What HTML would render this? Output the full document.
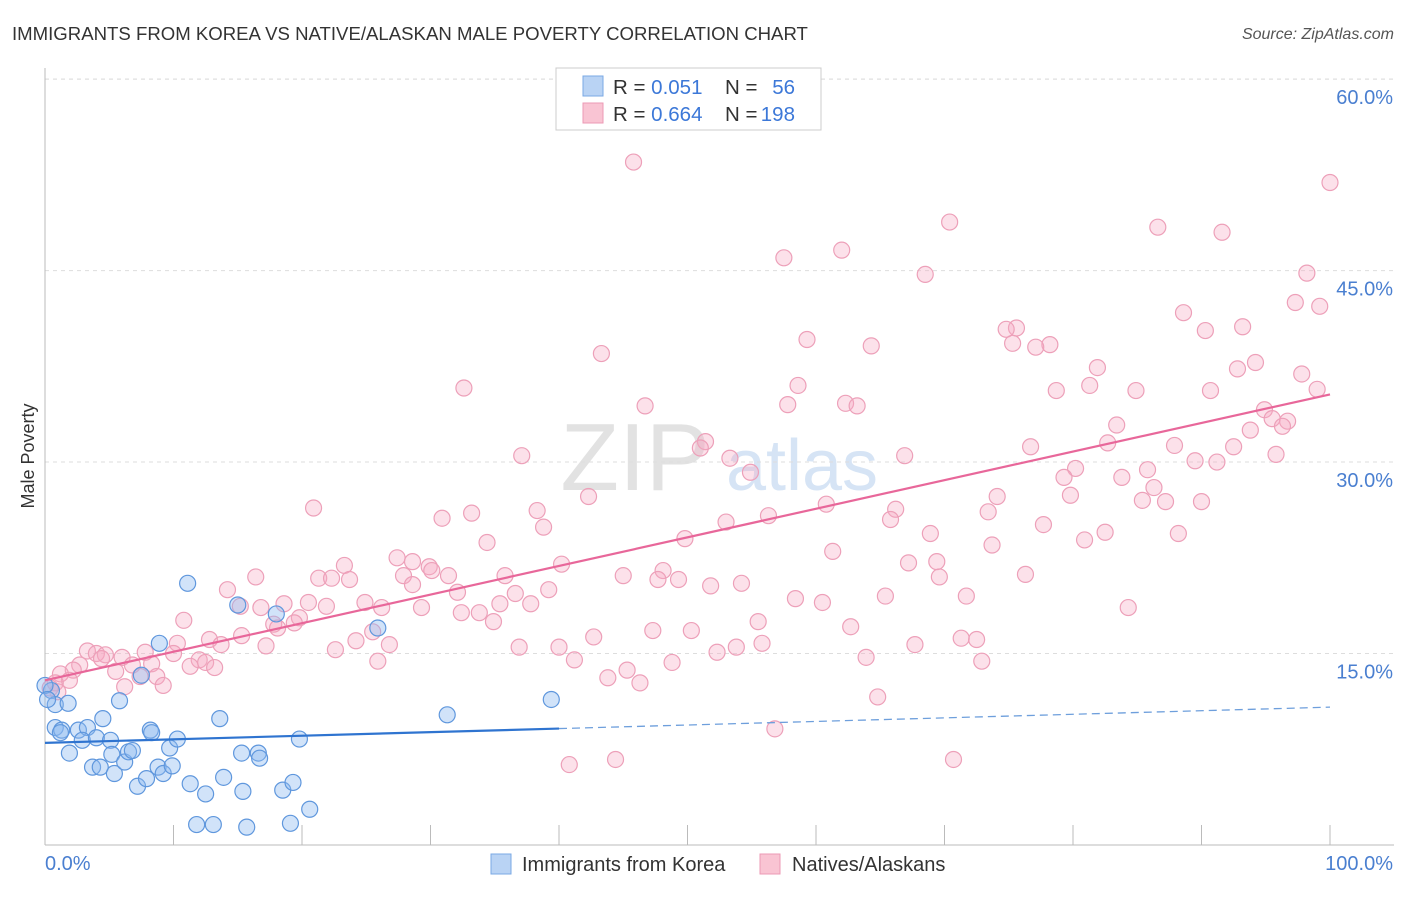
<!DOCTYPE html>
<html><head><meta charset="utf-8"><style>
body{margin:0;background:#fff;font-family:"Liberation Sans",sans-serif;}
svg text{font-family:"Liberation Sans",sans-serif;}
</style></head><body>
<svg id="c" width="1406" height="892">
<text x="12" y="40" font-size="18.6" fill="#333">IMMIGRANTS FROM KOREA VS NATIVE/ALASKAN MALE POVERTY CORRELATION CHART</text>
<text x="1394" y="39" font-size="16" fill="#555" font-style="italic" text-anchor="end">Source: ZipAtlas.com</text>
<text x="635" y="490" font-size="96" fill="#e2e2e2" font-family="Liberation Serif" text-anchor="middle">ZIP</text>
<text x="802" y="490" font-size="72" fill="#d6e4f5" text-anchor="middle">atlas</text>
<g id="grid"></g><g id="marks"></g>
<text transform="translate(34,456) rotate(-90)" font-size="18" fill="#333" text-anchor="middle">Male Poverty</text>
<g>
<rect x="556" y="68" width="265" height="62" fill="#fff" stroke="#ccc"/>
<rect x="583" y="76" width="20" height="20" fill="#b9d3f4" stroke="#7aa8e4"/>
<rect x="583" y="103" width="20" height="20" fill="#f9c4d3" stroke="#ec9ab4"/>
<text x="613" y="94" font-size="20.5" fill="#333">R = <tspan fill="#3c78d8">0.051</tspan></text>
<text x="725" y="94" font-size="20.5" fill="#333">N =</text>
<text x="795" y="94" font-size="20.5" fill="#3c78d8" text-anchor="end">56</text>
<text x="613" y="121" font-size="20.5" fill="#333">R = <tspan fill="#3c78d8">0.664</tspan></text>
<text x="725" y="121" font-size="20.5" fill="#333">N =</text>
<text x="795" y="121" font-size="20.5" fill="#3c78d8" text-anchor="end">198</text>
</g>
<g>
<rect x="491" y="854" width="20" height="20" fill="#b9d3f4" stroke="#7aa8e4"/>
<text x="522" y="871" font-size="20" fill="#333">Immigrants from Korea</text>
<rect x="760" y="854" width="20" height="20" fill="#f9c4d3" stroke="#ec9ab4"/>
<text x="792" y="871" font-size="20" fill="#333">Natives/Alaskans</text>
</g>
</svg>
<script>
const yTicks=[15,30,45,60];
const yTickLabels=["15.0%","30.0%","45.0%","60.0%"];
const xTickLabels=["0.0%","100.0%"];
const blueX=[0.5,0.8,1.8,0.8,1.3,1.9,2.6,3.3,2.9,4.0,4.5,3.7,4.3,5.1,5.2,5.4,5.8,6.2,6.5,6.8,7.2,7.5,7.9,8.2,8.3,8.8,8.9,9.2,9.7,9.9,10.3,11.1,11.3,11.8,12.5,13.1,13.6,13.9,15.0,15.3,15.4,15.7,16.6,16.7,18.0,18.5,19.1,19.3,19.8,20.6,25.9,31.3,39.4,0,0.2,1.2];
const blueY=[12.1,11.0,11.1,9.2,9.0,7.2,9.0,9.2,8.2,8.4,9.9,6.1,6.1,8.2,7.1,5.6,11.3,6.5,7.3,7.4,4.6,13.3,5.2,9.0,8.8,6.1,15.8,5.6,7.6,6.2,8.3,20.5,4.8,1.6,4.0,1.6,9.9,5.3,18.8,7.2,4.2,1.4,7.2,6.8,18.1,4.3,1.7,4.9,8.3,2.8,17.0,10.2,11.4,12.5,11.4,8.8];
const pinkX=[45.8,100,70.4,86.6,91.6,62.0,57.5,68.5,98.2,97.3,99.2,88.6,93.2,90.3,75.6,74.8,75.3,78.2,77.1,64.3,59.3,43.3,94.2,92.8,97.8,81.9,32.6,58.6,81.3,78.7,84.9,90.7,99.0,57.8,62.3,63.2,46.7,94.9,95.5,96.7,96.3,83.4,93.8,51.4,51.0,82.7,76.7,87.9,92.5,37.1,53.3,66.9,89.5,91.2,95.8,54.9,80.2,85.8,79.3,83.8,86.3,42.3,74.1,79.8,85.4,87.2,90.0,20.9,33.2,38.3,66.2,30.9,56.3,60.8,73.4,65.8,53.0,38.8,77.7,68.9,82.5,34.4,49.8,80.9,73.7,88.2,61.3,27.4,23.3,28.6,29.9,40.2,67.2,69.4,27.9,30.1,31.4,35.8,16.4,21.3,22.3,23.7,45.0,48.1,47.7,49.3,69.6,76.3,28.6,51.8,54.2,14.2,39.2,36.6,32.1,58.4,65.4,71.7,20.5,24.9,35.4,37.8,15.2,16.8,18.6,21.9,26.2,29.3,60.5,84.3,32.4,33.8,10.8,19.8,19.4,17.8,34.9,55.5,18.1,62.7,25.5,47.3,50.3,15.3,42.7,71.3,72.5,24.2,10.3,12.8,13.7,26.8,55.8,17.2,67.7,22.6,36.9,40.0,53.8,3.3,7.8,10.0,4.0,4.7,6.0,52.3,4.4,12.0,63.9,41.2,12.5,25.9,48.8,72.9,6.8,8.3,11.3,13.2,2.7,2.2,5.5,7.4,45.3,1.2,8.7,43.8,1.9,0.8,9.2,46.3,6.2,0.4,1.0,64.8,56.8,40.8,44.4,70.7];
const pinkY=[53.5,51.9,48.8,48.4,48.0,46.6,46.0,44.7,44.8,42.5,42.2,41.7,40.6,40.3,40.5,40.4,39.3,39.2,39.0,39.1,39.6,38.5,37.8,37.3,36.9,37.4,35.8,36.0,36.0,35.6,35.6,35.6,35.7,34.5,34.6,34.4,34.4,34.1,33.4,33.2,32.8,32.9,32.5,31.6,31.1,31.5,31.2,31.3,31.2,30.5,30.3,30.5,30.1,30.0,30.6,29.2,29.5,29.4,28.8,28.8,28.0,27.3,27.3,27.4,27.0,26.9,26.9,26.4,26.0,26.2,26.3,25.6,25.8,26.7,26.1,25.5,25.3,24.9,25.1,24.4,24.5,23.7,24.0,23.9,23.5,24.4,23.0,22.5,21.9,22.2,21.8,22.0,22.1,22.2,21.1,21.5,21.1,21.1,21.0,20.9,20.9,20.8,21.1,21.5,20.8,20.8,21.0,21.2,20.4,20.3,20.5,20.0,20.0,19.7,19.8,19.3,19.5,19.5,19.0,19.0,18.9,18.9,18.7,18.6,18.9,18.7,18.6,18.6,19.0,18.6,18.2,18.2,17.6,17.8,17.4,17.3,17.5,17.5,17.0,17.1,16.7,16.8,16.8,16.4,16.3,16.2,16.1,16.0,15.8,16.1,15.7,15.7,15.8,15.6,15.7,15.3,15.5,15.5,15.5,15.2,15.1,15.0,15.0,14.9,14.7,15.1,14.6,14.5,14.7,14.5,14.3,14.4,14.3,14.4,14.1,14.2,14.0,13.9,14.1,13.7,13.6,13.2,13.7,13.4,13.2,13.1,12.9,12.7,12.5,12.7,12.4,12.3,12.0,11.6,9.1,6.3,6.7,6.7];
const blueFit=[8.0,10.8], pinkFit=[12.9,35.3];
const NS='http://www.w3.org/2000/svg';
const X=v=>45+v*12.85, Y=v=>845-v*12.765;
function mk(t,a,p){const e=document.createElementNS(NS,t);for(const k in a)e.setAttribute(k,a[k]);p.appendChild(e);return e;}
const g=document.getElementById('grid'),m=document.getElementById('marks');
yTicks.forEach((t,i)=>{
 const l=mk('line',{x1:45,x2:1394,y1:Y(t),y2:Y(t),stroke:'#ddd','stroke-dasharray':'4,4'},g);
 
 
 const tx=mk('text',{x:1393,y:Y(t)+25,'font-size':20,fill:'#4a7fd0','text-anchor':'end'},g);
 tx.textContent=yTickLabels[i];
 
 
});
const topLine=mk('line',{x1:45,x2:1394,y1:Y(60),y2:Y(60),stroke:'#ddd','stroke-dasharray':'4,4'},g);


const ax=mk('line',{x1:45,x2:1394,y1:845,y2:845,stroke:'#bbb'},g);


const ay=mk('line',{x1:45,x2:45,y1:68,y2:845,stroke:'#bbb'},g);


for(let i=0;i<=10;i++){const t=mk('line',{x1:X(i*10),x2:X(i*10),y1:825,y2:845,stroke:'#bbb'},g);
 
 }
[[0,'start',45],[100,'end',1393]].forEach((d,i)=>{const t=mk('text',{x:d[2],y:870,'font-size':20,fill:'#4a7fd0','text-anchor':d[1]},g);t.textContent=xTickLabels[i];
 
 });
pinkX.forEach((x,i)=>{const c=mk('circle',{cx:X(x),cy:Y(pinkY[i]),r:8,fill:'rgba(245,170,195,0.35)',stroke:'#eda0b9','stroke-width':1.2},m);
 
 });
blueX.forEach((x,i)=>{const c=mk('circle',{cx:X(x),cy:Y(blueY[i]),r:8,fill:'rgba(140,185,240,0.4)',stroke:'#5f97dd','stroke-width':1.2},m);
 
 });
const bAt=v=>blueFit[0]+(blueFit[1]-blueFit[0])*v/100;
const b1=mk('line',{x1:X(0),y1:Y(bAt(0)),x2:X(40),y2:Y(bAt(40)),stroke:'#2f74d0','stroke-width':2.2},m);


const b2=mk('line',{x1:X(40),y1:Y(bAt(40)),x2:X(100),y2:Y(bAt(100)),stroke:'#6e9fdc','stroke-width':1.3,'stroke-dasharray':'8,5'},m);


const p1=mk('line',{x1:X(0),y1:Y(pinkFit[0]),x2:X(100),y2:Y(pinkFit[1]),stroke:'#e8679a','stroke-width':2.2},m);


</script>
</body></html>
